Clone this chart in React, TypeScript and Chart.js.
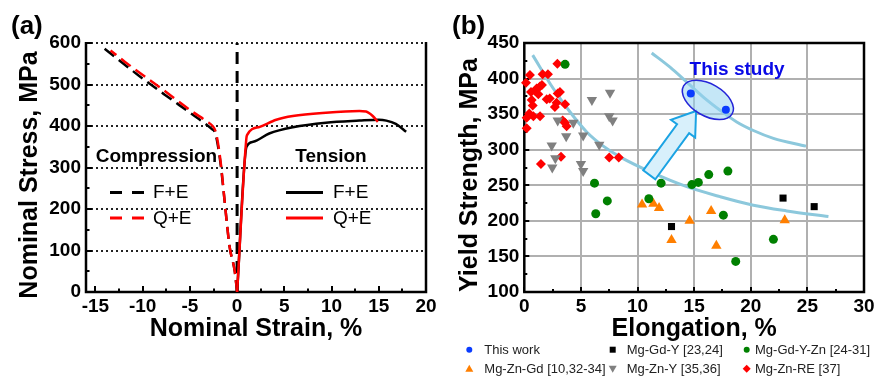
import React, { useEffect, useRef } from 'react';
import { Chart, registerables } from 'chart.js';

Chart.register(...registerables);

const FONT = '"Liberation Sans", Arial, Helvetica, sans-serif';

// ---------------- Panel (a): stress-strain ----------------
const strainTicks = [-15, -10, -5, 0, 5, 10, 15, 20];
const strainMinorTicks = [-12.5, -7.5, -2.5, 2.5, 7.5, 12.5, 17.5];
const stressTicks = [0, 100, 200, 300, 400, 500, 600];
const stressMinorTicks = [50, 150, 250, 350, 450, 550];
const stressGrid = [100, 200, 300, 400, 500, 600];

const compFE_strain = [0, -0.25, -0.8, -1.3, -1.7, -2.05, -2.35, -2.7, -4.2, -7.7, -10.5, -14.2];
const compFE_stress = [0, 50, 110, 214, 300, 355, 385, 393, 419, 476, 523, 589];
const compQE_strain = [0, -0.25, -0.8, -1.3, -1.7, -2.05, -2.3, -2.6, -3.2, -4.7, -8.0, -11.9, -13.4];
const compQE_stress = [0, 50, 110, 214, 305, 362, 388, 400, 411, 434, 490, 555, 582];
const tenFE_strain = [0, 1.0, 1.7, 3.4, 5.9, 9.4, 12.95, 15.0, 15.8, 16.8, 17.9];
const tenFE_stress = [0, 350, 362, 382, 397, 408, 413, 415, 413, 405, 386];
const tenQE_strain = [0, 0.98, 1.05, 2.4, 4.15, 5.9, 9.4, 12.95, 13.65, 14.36, 14.9];
const tenQE_stress = [0, 370, 378, 398, 415, 424, 432, 436, 435, 424, 410];
const zeroLine_strain = [0, 0];
const zeroLine_stress = [0, 600];

// ---------------- Panel (b): yield strength vs elongation ----------------
const elongTicks = [0, 5, 10, 15, 20, 25, 30];
const elongMinorTicks = [2.5, 7.5, 12.5, 17.5, 22.5, 27.5];
const elongGrid = [5, 10, 15, 20, 25];
const ysTicks = [100, 150, 200, 250, 300, 350, 400, 450];
const ysMinorTicks = [125, 175, 225, 275, 325, 375, 425];
const ysGrid = [150, 200, 250, 300, 350, 400];

const thisWork_el = [14.7, 17.8];
const thisWork_ys = [379, 356];
const mgGdY_el = [13.0, 22.85, 25.6];
const mgGdY_ys = [192, 232, 220];
const mgGdYZn_el = [3.6, 6.2, 7.33, 6.31, 11.0, 12.08, 14.8, 15.37, 16.29, 17.98, 17.58, 22.0, 18.67];
const mgGdYZn_ys = [420, 253, 228, 210, 231, 253, 251, 254, 265, 270, 208, 174, 143];
const mgZnGd_el = [10.4, 11.4, 11.9, 14.6, 13.0, 16.5, 16.96, 23.0];
const mgZnGd_ys = [223, 224, 218, 200, 173, 214, 165, 201];
const mgZnY_el = [7.57, 5.97, 7.5, 7.8, 2.95, 4.33, 3.7, 5.2, 6.62, 2.42, 2.74, 2.47, 5.0, 5.2];
const mgZnY_ys = [380, 370, 347, 341, 341, 338, 319, 320, 307, 306, 288, 275, 280, 270];
const mgZnRE_el = [2.92, 0.5, 1.62, 2.09, 0.15, 1.09, 1.38, 1.56, 0.95, 0.59, 1.24, 1.98, 2.25, 3.15, 2.95, 0.65, 2.85, 2.7, 3.6, 0.74, 0.44, 0.8, 1.39, 0.21, 3.39, 3.6, 3.74, 0.21, 3.24, 1.47, 7.5, 8.34];
const mgZnRE_ys = [421, 405, 406, 406, 394, 386, 389, 391, 383, 381, 378, 371, 372, 381, 379, 370, 366, 360, 364, 362, 351, 347, 347, 345, 341, 338, 333, 330, 290, 280, 289, 289];
const upperTrend_el = [11.25, 12.87, 14.35, 15.81, 17.29, 18.76, 20.23, 22.0, 24.88];
const upperTrend_ys = [436, 416, 395, 374, 355.5, 339, 327, 316, 305];
const lowerTrend_el = [0.74, 2.56, 4.04, 5.51, 6.98, 8.45, 11.4, 14.35, 17.29, 20.23, 23.18, 26.86];
const lowerTrend_ys = [433, 386, 353, 325, 305, 290, 267, 248, 234, 222, 214, 206];

// annotation anchors (data coordinates)
const ellipseCenter = { x: 16.21, y: 370 };
const arrowTail = { x: 11.04, y: 264.7 };
const arrowTip = { x: 15.17, y: 354.5 };
const studyLabelAt = { x: 18.79, y: 413 };

const legendB = [
  { label: 'This work', shape: 'circle', color: '#0a3cff' },
  { label: 'Mg-Gd-Y [23,24]', shape: 'square', color: '#000000' },
  { label: 'Mg-Gd-Y-Zn [24-31]', shape: 'circle', color: '#008000' },
  { label: 'Mg-Zn-Gd [10,32-34]', shape: 'triangle', color: '#ff7f00' },
  { label: 'Mg-Zn-Y [35,36]', shape: 'triangleDown', color: '#808080' },
  { label: 'Mg-Zn-RE [37]', shape: 'diamond', color: '#ff0000' },
];

const zip = (xs: number[], ys: number[]) => xs.map((x, i) => ({ x, y: ys[i] }));

function setTicks(values: number[]) {
  return (scale: any) => {
    scale.ticks = values.map((v) => ({ value: v }));
  };
}

function drawGridLines(chart: any, xVals: number[], yVals: number[], color: string, width: number, dash: number[]) {
  const ctx: CanvasRenderingContext2D = chart.ctx;
  const a = chart.chartArea;
  const xs = chart.scales.x;
  const ys = chart.scales.y;
  ctx.save();
  ctx.strokeStyle = color;
  ctx.lineWidth = width;
  ctx.setLineDash(dash);
  for (const v of xVals) {
    const p = Math.round(xs.getPixelForValue(v));
    ctx.beginPath();
    ctx.moveTo(p, a.top);
    ctx.lineTo(p, a.bottom);
    ctx.stroke();
  }
  for (const v of yVals) {
    const p = Math.round(ys.getPixelForValue(v));
    ctx.beginPath();
    ctx.moveTo(a.left, p);
    ctx.lineTo(a.right, p);
    ctx.stroke();
  }
  ctx.restore();
}

function drawInwardTicks(chart: any, xMaj: number[], xMin: number[], yMaj: number[], yMin: number[], maj: number, min: number, lw: number) {
  const ctx: CanvasRenderingContext2D = chart.ctx;
  const a = chart.chartArea;
  const xs = chart.scales.x;
  const ys = chart.scales.y;
  ctx.save();
  ctx.strokeStyle = '#000';
  ctx.lineWidth = lw;
  ctx.setLineDash([]);
  ctx.beginPath();
  for (const v of xMaj) {
    const p = Math.round(xs.getPixelForValue(v));
    ctx.moveTo(p, a.bottom);
    ctx.lineTo(p, a.bottom - maj);
  }
  for (const v of xMin) {
    const p = Math.round(xs.getPixelForValue(v));
    ctx.moveTo(p, a.bottom);
    ctx.lineTo(p, a.bottom - min);
  }
  for (const v of yMaj) {
    const p = Math.round(ys.getPixelForValue(v));
    ctx.moveTo(a.left, p);
    ctx.lineTo(a.left + maj, p);
  }
  for (const v of yMin) {
    const p = Math.round(ys.getPixelForValue(v));
    ctx.moveTo(a.left, p);
    ctx.lineTo(a.left + min, p);
  }
  ctx.stroke();
  ctx.restore();
}

function drawVerticalTitle(ctx: CanvasRenderingContext2D, text: string, x: number, y: number) {
  ctx.save();
  ctx.translate(x, y);
  ctx.rotate(-Math.PI / 2);
  ctx.font = `bold 25px ${FONT}`;
  ctx.fillStyle = '#000';
  ctx.textAlign = 'center';
  ctx.textBaseline = 'middle';
  ctx.fillText(text, 0, 0);
  ctx.restore();
}

function drawMarker(ctx: CanvasRenderingContext2D, shape: string, x: number, y: number, color: string) {
  ctx.save();
  ctx.fillStyle = color;
  ctx.beginPath();
  if (shape === 'circle') {
    ctx.arc(x, y, 3, 0, Math.PI * 2);
  } else if (shape === 'square') {
    ctx.rect(x - 3, y - 3, 6, 6);
  } else if (shape === 'triangle') {
    ctx.moveTo(x, y - 4);
    ctx.lineTo(x + 4, y + 3);
    ctx.lineTo(x - 4, y + 3);
  } else if (shape === 'triangleDown') {
    ctx.moveTo(x, y + 4);
    ctx.lineTo(x + 4, y - 3);
    ctx.lineTo(x - 4, y - 3);
  } else {
    ctx.moveTo(x, y - 4);
    ctx.lineTo(x + 4, y);
    ctx.lineTo(x, y + 4);
    ctx.lineTo(x - 4, y);
  }
  ctx.closePath();
  ctx.fill();
  ctx.restore();
}

const panelAPlugin = {
  id: 'panelA',
  beforeDatasetsDraw(chart: any) {
    const ctx: CanvasRenderingContext2D = chart.ctx;
    const a = chart.chartArea;
    drawGridLines(chart, [], stressGrid, '#222222', 2, [2, 3]);
    drawInwardTicks(chart, strainTicks, strainMinorTicks, stressTicks, stressMinorTicks, 6, 3.5, 2);
    ctx.save();
    ctx.strokeStyle = '#000';
    ctx.lineWidth = 2.5;
    ctx.setLineDash([]);
    ctx.beginPath();
    ctx.moveTo(a.left, a.bottom);
    ctx.lineTo(a.right, a.bottom);
    ctx.moveTo(a.left, a.top - 1);
    ctx.lineTo(a.left, a.bottom + 1.25);
    ctx.moveTo(a.right, a.top - 1);
    ctx.lineTo(a.right, a.bottom + 1.25);
    ctx.stroke();
    ctx.restore();
  },
  afterDraw(chart: any) {
    const ctx: CanvasRenderingContext2D = chart.ctx;
    ctx.save();
    ctx.fillStyle = '#000';
    ctx.textBaseline = 'middle';
    ctx.textAlign = 'left';
    ctx.font = `bold 26px ${FONT}`;
    ctx.fillText('(a)', 11, 27);
    drawVerticalTitle(ctx, 'Nominal Stress, MPa', 30, 175);

    ctx.textAlign = 'center';
    ctx.font = `bold 19px ${FONT}`;
    ctx.fillText('Compression', 156.5, 157);
    ctx.fillText('Tension', 331, 157);

    ctx.lineWidth = 3;
    ctx.setLineDash([12, 10]);
    ctx.strokeStyle = '#000';
    ctx.beginPath(); ctx.moveTo(110, 192.5); ctx.lineTo(145, 192.5); ctx.stroke();
    ctx.strokeStyle = '#ff0000';
    ctx.beginPath(); ctx.moveTo(110, 218); ctx.lineTo(145, 218); ctx.stroke();
    ctx.setLineDash([]);
    ctx.strokeStyle = '#000';
    ctx.beginPath(); ctx.moveTo(286, 192.5); ctx.lineTo(323, 192.5); ctx.stroke();
    ctx.strokeStyle = '#ff0000';
    ctx.beginPath(); ctx.moveTo(286, 218); ctx.lineTo(323, 218); ctx.stroke();

    ctx.textAlign = 'left';
    ctx.font = `19px ${FONT}`;
    ctx.fillStyle = '#000';
    ctx.fillText('F+E', 153, 192.5);
    ctx.fillText('Q+E', 153, 218.5);
    ctx.fillText('F+E', 333, 192.5);
    ctx.fillText('Q+E', 333, 218.5);
    ctx.restore();
  },
};

const panelBPlugin = {
  id: 'panelB',
  beforeDatasetsDraw(chart: any) {
    const ctx: CanvasRenderingContext2D = chart.ctx;
    const a = chart.chartArea;
    drawGridLines(chart, elongGrid, ysGrid, '#b0b0b0', 2, []);
    drawInwardTicks(chart, elongTicks, elongMinorTicks, ysTicks, ysMinorTicks, 5, 3, 2);
    ctx.save();
    ctx.strokeStyle = '#000';
    ctx.lineWidth = 2.5;
    ctx.setLineDash([]);
    ctx.strokeRect(a.left, a.top, a.right - a.left, a.bottom - a.top);
    ctx.restore();
  },
  beforeDatasetDraw(chart: any, args: any) {
    if (args.index !== 0) return;
    const ctx: CanvasRenderingContext2D = chart.ctx;
    const xs = chart.scales.x;
    const ys = chart.scales.y;
    // block arrow
    const tx = xs.getPixelForValue(arrowTail.x);
    const ty = ys.getPixelForValue(arrowTail.y);
    const hx = xs.getPixelForValue(arrowTip.x);
    const hy = ys.getPixelForValue(arrowTip.y);
    const dx = hx - tx;
    const dy = hy - ty;
    const L = Math.hypot(dx, dy);
    const ux = dx / L;
    const uy = dy / L;
    const nx = -uy;
    const ny = ux;
    const hl = 22;
    const hw = 15;
    const bw = 7.5;
    const bx = hx - ux * hl;
    const by = hy - uy * hl;
    ctx.save();
    ctx.setLineDash([]);
    ctx.beginPath();
    ctx.moveTo(tx + nx * bw, ty + ny * bw);
    ctx.lineTo(bx + nx * bw, by + ny * bw);
    ctx.lineTo(bx + nx * hw, by + ny * hw);
    ctx.lineTo(hx, hy);
    ctx.lineTo(bx - nx * hw, by - ny * hw);
    ctx.lineTo(bx - nx * bw, by - ny * bw);
    ctx.lineTo(tx - nx * bw, ty - ny * bw);
    ctx.closePath();
    ctx.fillStyle = '#d8f0fb';
    ctx.fill();
    ctx.strokeStyle = '#1ba3e3';
    ctx.lineWidth = 2;
    ctx.lineJoin = 'miter';
    ctx.stroke();
    // ellipse
    const ex = xs.getPixelForValue(ellipseCenter.x);
    const ey = ys.getPixelForValue(ellipseCenter.y);
    ctx.beginPath();
    ctx.ellipse(ex, ey, 28, 16, Math.PI / 6, 0, Math.PI * 2);
    ctx.fillStyle = 'rgba(150, 212, 240, 0.55)';
    ctx.fill();
    ctx.strokeStyle = '#2424d8';
    ctx.lineWidth = 1.5;
    ctx.stroke();
    ctx.restore();
  },
  afterDraw(chart: any) {
    const ctx: CanvasRenderingContext2D = chart.ctx;
    const xs = chart.scales.x;
    const ys = chart.scales.y;
    ctx.save();
    ctx.fillStyle = '#000';
    ctx.textBaseline = 'middle';
    ctx.textAlign = 'left';
    ctx.font = `bold 26px ${FONT}`;
    ctx.fillText('(b)', 12, 27);
    drawVerticalTitle(ctx, 'Yield Strength, MPa', 30, 175);

    ctx.textAlign = 'center';
    ctx.font = `bold 19px ${FONT}`;
    ctx.fillStyle = '#0a0ae6';
    ctx.fillText('This study', xs.getPixelForValue(studyLabelAt.x), ys.getPixelForValue(studyLabelAt.y));

    // legend (2 rows x 3 columns)
    const markerX = [29.3, 172.7, 306.7];
    const textX = [44.3, 186.7, 315];
    const rowY = [349.7, 368.7];
    ctx.font = `13px ${FONT}`;
    ctx.textAlign = 'left';
    legendB.forEach((item, i) => {
      const col = i % 3;
      const row = Math.floor(i / 3);
      drawMarker(ctx, item.shape, markerX[col], rowY[row], item.color);
      ctx.fillStyle = '#222';
      ctx.fillText(item.label, textX[col], rowY[row] + 0.5);
    });
    ctx.restore();
  },
};

const tickFont = { family: FONT, size: 19, weight: 'bold' as const };
const titleFont = { family: FONT, size: 25, weight: 'bold' as const };

export default function App() {
  const refA = useRef<HTMLCanvasElement>(null);
  const refB = useRef<HTMLCanvasElement>(null);

  useEffect(() => {
    if (!refA.current || !refB.current) return;
    const lineDs = (label: string, xs: number[], ys: number[], color: string, dash: number[], width: number) => ({
      label,
      data: zip(xs, ys),
      showLine: true,
      borderColor: color,
      backgroundColor: color,
      borderWidth: width,
      borderDash: dash,
      pointRadius: 0,
      cubicInterpolationMode: 'monotone' as const,
      fill: false,
    });

    const chartA = new Chart(refA.current, {
      type: 'scatter',
      data: {
        datasets: [
          lineDs('Q+E tension', tenQE_strain, tenQE_stress, '#ff0000', [], 2.5),
          lineDs('F+E tension', tenFE_strain, tenFE_stress, '#000000', [], 2.5),
          lineDs('Q+E compression', compQE_strain, compQE_stress, '#ff0000', [12, 6], 2.5),
          lineDs('F+E compression', compFE_strain, compFE_stress, '#000000', [12, 6], 2.5),
          { ...lineDs('zero', zeroLine_strain, zeroLine_stress, '#000000', [12, 7], 3), cubicInterpolationMode: 'default' as const },
        ],
      },
      options: {
        animation: false,
        responsive: false,
        devicePixelRatio: 1,
        events: [],
        layout: { padding: { left: 0, right: 14, top: 43, bottom: 0 } },
        plugins: { legend: { display: false }, tooltip: { enabled: false } },
        scales: {
          x: {
            type: 'linear',
            min: -16,
            max: 20,
            afterBuildTicks: setTicks(strainTicks),
            afterFit: (s: any) => { s.height = 84; s.paddingLeft = 0; s.paddingRight = 0; },
            grid: { display: false, drawTicks: false },
            border: { display: false },
            ticks: { color: '#000', font: tickFont, padding: 3, maxRotation: 0, autoSkip: false },
            title: { display: true, text: 'Nominal Strain, %', color: '#000', font: titleFont, padding: { top: 0, bottom: 32 } },
          },
          y: {
            type: 'linear',
            min: 0,
            max: 600,
            afterBuildTicks: setTicks(stressTicks),
            afterFit: (s: any) => { s.width = 86; },
            grid: { display: false, drawTicks: false },
            border: { display: false },
            ticks: { color: '#000', font: tickFont, padding: 5, autoSkip: false },
          },
        },
      },
      plugins: [panelAPlugin],
    } as any);

    const ptDs = (label: string, xs: number[], ys: number[], color: string, style: string, r: number, rot = 0) => ({
      label,
      data: zip(xs, ys),
      showLine: false,
      pointStyle: style,
      pointRadius: r,
      pointRotation: rot,
      pointBackgroundColor: color,
      pointBorderColor: color,
      pointBorderWidth: 0,
      backgroundColor: color,
      borderColor: color,
      clip: false,
    });

    const chartB = new Chart(refB.current, {
      type: 'scatter',
      data: {
        datasets: [
          ptDs('This work', thisWork_el, thisWork_ys, '#0a3cff', 'circle', 4),
          ptDs('Mg-Gd-Y [23,24]', mgGdY_el, mgGdY_ys, '#000000', 'rect', 5),
          ptDs('Mg-Gd-Y-Zn [24-31]', mgGdYZn_el, mgGdYZn_ys, '#008000', 'circle', 4.5),
          ptDs('Mg-Zn-Gd [10,32-34]', mgZnGd_el, mgZnGd_ys, '#ff7f00', 'triangle', 6),
          ptDs('Mg-Zn-Y [35,36]', mgZnY_el, mgZnY_ys, '#808080', 'triangle', 6, 180),
          ptDs('Mg-Zn-RE [37]', mgZnRE_el, mgZnRE_ys, '#ff0000', 'rectRot', 5),
          lineDs('upper trend', upperTrend_el, upperTrend_ys, '#8cc8dc', [], 3),
          lineDs('lower trend', lowerTrend_el, lowerTrend_ys, '#8cc8dc', [], 3),
        ],
      },
      options: {
        animation: false,
        responsive: false,
        devicePixelRatio: 1,
        events: [],
        layout: { padding: { left: 0, right: 11, top: 43, bottom: 0 } },
        plugins: { legend: { display: false }, tooltip: { enabled: false } },
        scales: {
          x: {
            type: 'linear',
            min: 0,
            max: 30,
            afterBuildTicks: setTicks(elongTicks),
            afterFit: (s: any) => { s.height = 84; s.paddingLeft = 0; s.paddingRight = 0; },
            grid: { display: false, drawTicks: false },
            border: { display: false },
            ticks: { color: '#000', font: tickFont, padding: 3, maxRotation: 0, autoSkip: false },
            title: { display: true, text: 'Elongation, %', color: '#000', font: titleFont, padding: { top: 0, bottom: 32 } },
          },
          y: {
            type: 'linear',
            min: 100,
            max: 450,
            afterBuildTicks: setTicks(ysTicks),
            afterFit: (s: any) => { s.width = 84.3; },
            grid: { display: false, drawTicks: false },
            border: { display: false },
            ticks: { color: '#000', font: tickFont, padding: 5, autoSkip: false },
          },
        },
      },
      plugins: [panelBPlugin],
    } as any);

    return () => {
      chartA.destroy();
      chartB.destroy();
    };
  }, []);

  return (
    <div style={{ position: 'absolute', left: 0, top: 0, width: 875, height: 376, background: '#fff', overflow: 'hidden' }}>
      <canvas ref={refA} width={440} height={376} style={{ position: 'absolute', left: 0, top: 0, width: 440, height: 376 }} />
      <canvas ref={refB} width={435} height={376} style={{ position: 'absolute', left: 440, top: 0, width: 435, height: 376 }} />
    </div>
  );
}
